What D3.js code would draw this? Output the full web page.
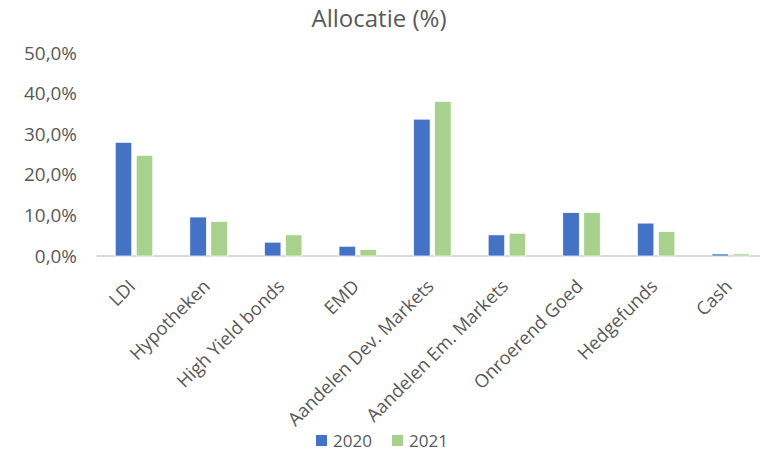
<!DOCTYPE html>
<html><head><meta charset="utf-8">
<script src="https://cdn.jsdelivr.net/npm/d3@7"></script>
<style>body{margin:0;background:#fff;} text{font-family:"Open Sans",sans-serif;fill:#595959;}</style>
</head><body><svg id="c" width="760" height="454"></svg>
<script>
const categories = ["LDI","Hypotheken","High Yield bonds","EMD","Aandelen Dev. Markets","Aandelen Em. Markets","Onroerend Goed","Hedgefunds","Cash"];
const series = ["2020","2021"];
const values2020 = [28.0, 9.6, 3.4, 2.4, 33.7, 5.2, 10.7, 8.1, 0.5];
const values2021 = [24.8, 8.5, 5.2, 1.6, 38.1, 5.6, 10.7, 6.0, 0.5];
const yTicks = [0,10,20,30,40,50];
const colors = ["#4472C4","#A9D18E"];

const svg = d3.select("#c");
function fitSize(sample, target){
  const t = svg.append("text").style("font-size","20px").text(sample);
  const w = t.node().getComputedTextLength(); t.remove();
  return 20*target/w;
}
const titleSize = fitSize("Allocatie (%)", 135);
const tickSize = fitSize("50,0%", 53);
const catSize = (fitSize("Hedgefunds", 102) + fitSize("Aandelen Dev. Markets", 201)) / 2;
const legSize = fitSize("2020", 39);

const x = d3.scaleBand().domain(categories).range([96.7, 768]);
const xs = d3.scaleBand().domain(series).range([0, x.bandwidth()]).paddingInner(0.214).paddingOuter(0.883);
const y = d3.scaleLinear().domain([0,50]).range([256, 53]);

svg.append("text").attr("x",379).attr("y",27).attr("text-anchor","middle").style("font-size",titleSize+"px").text("Allocatie (%)");

const fmt = v => d3.format(".1f")(v).replace(".",",") + "%";
svg.append("g").selectAll("text").data(yTicks).join("text")
  .attr("x",77).attr("y",d=>y(d)).attr("dy","0.35em").attr("text-anchor","end")
  .style("font-size",tickSize+"px").text(fmt);

svg.append("line").attr("x1",96.7).attr("x2",760).attr("y1",y(0)).attr("y2",y(0))
  .attr("stroke","#D9D9D9").attr("stroke-width",2);

const data = categories.map((c,i)=>({c, vals:[values2020[i], values2021[i]]}));
const g = svg.append("g").selectAll("g").data(data).join("g").attr("transform",d=>`translate(${x(d.c)},0)`);
g.selectAll("rect").data(d=>d.vals.map((v,j)=>({s:series[j],v,j}))).join("rect")
  .attr("x",d=>xs(d.s)).attr("width",xs.bandwidth())
  .attr("y",d=>y(d.v)).attr("height",d=>y(0)-y(d.v))
  .attr("fill",d=>colors[d.j]).attr("stroke","#fff").attr("stroke-width",0.7);

svg.append("g").selectAll("text").data(categories).join("text")
  .attr("transform",d=>`translate(${x(d)+x.bandwidth()/2-2},283) rotate(-45)`)
  .attr("text-anchor","end").attr("dy","0.35em").style("font-size",catSize+"px").text(d=>d);

const leg = svg.append("g");
const lx = [316, 392];
series.forEach((s,i)=>{
  leg.append("rect").attr("x",lx[i]).attr("y",435).attr("width",11).attr("height",11).attr("fill",colors[i]);
  leg.append("text").attr("x",lx[i]+17).attr("y",447).style("font-size",legSize+"px").text(s);
});
</script></body></html>
